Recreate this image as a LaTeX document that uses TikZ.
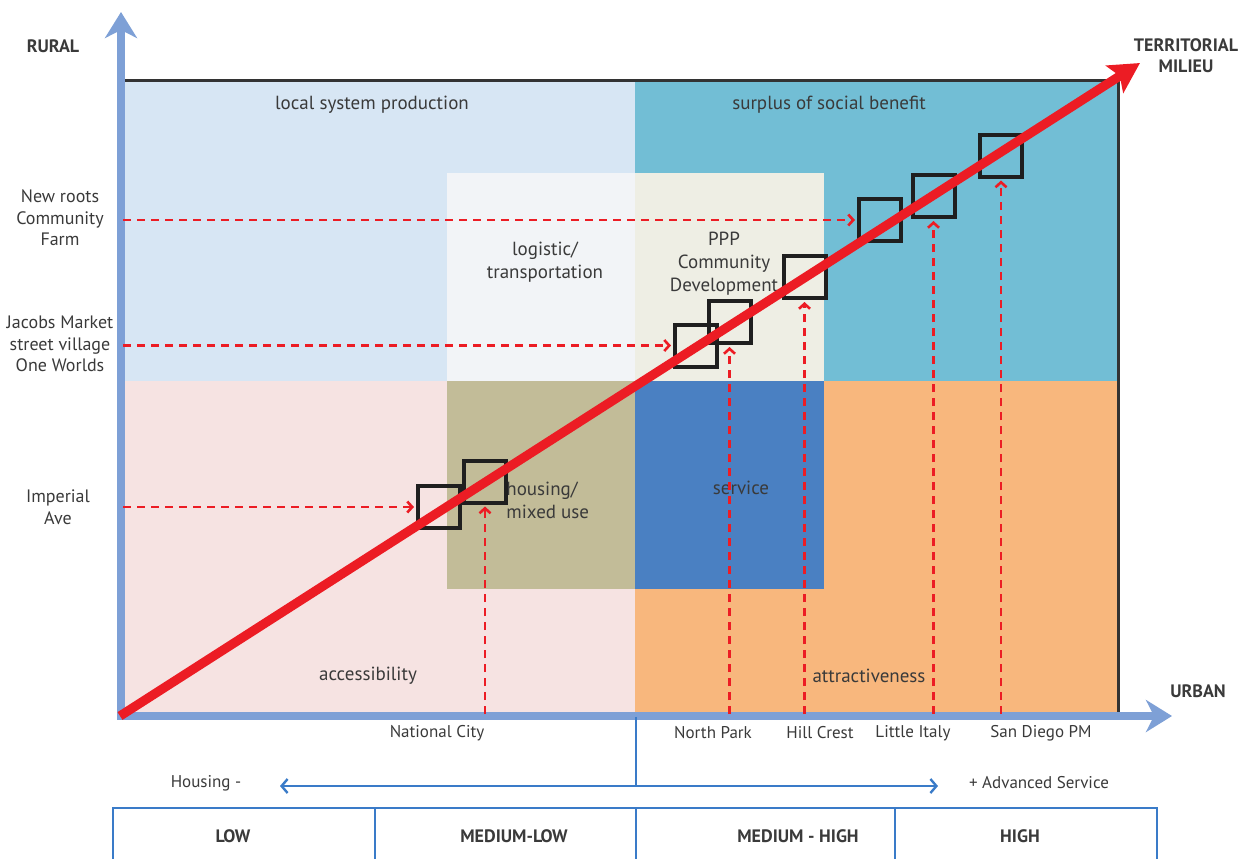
\documentclass[tikz,border=0pt]{standalone}
\usepackage{fontspec}
\setmainfont{PT Sans}
\usetikzlibrary{arrows.meta}
\definecolor{ltbluebg}{HTML}{D7E6F4}
\definecolor{tealbg}{HTML}{72BED5}
\definecolor{pinkbg}{HTML}{F6E3E2}
\definecolor{orangebg}{HTML}{F8B77D}
\definecolor{whitebg}{HTML}{F2F4F7}
\definecolor{beigebg}{HTML}{EEEEE4}
\definecolor{khakibg}{HTML}{C2BC98}
\definecolor{midbluebg}{HTML}{4A80C2}
\definecolor{axisblue}{HTML}{7EA0D6}
\definecolor{redline}{HTML}{EC1C24}
\definecolor{tblue}{HTML}{3A7BC8}
\definecolor{txt}{HTML}{3A3A3A}
\tikzset{
  lbl/.style={text=txt, font=\fontsize{8.5}{11}\selectfont, align=center, inner sep=0pt},
  rlbl/.style={text=txt, font=\fontsize{9.5}{11.5}\selectfont, align=center, inner sep=0pt},
  llbl/.style={text=txt, font=\fontsize{9}{10.8}\selectfont, align=center, inner sep=0pt},
  blbl/.style={text=txt, font=\bfseries\fontsize{9}{10.5}\selectfont, align=center, inner sep=0pt},
  sq/.style={draw=black!88, line width=2pt, minimum size=21pt, inner sep=0pt},
  dasharr/.style={redline, line width=1.4pt, dash pattern=on 4pt off 3pt,
    -{Straight Barb[length=2.5pt,width=5.5pt,line width=1.3pt]}, shorten >=1pt},
  axisarr/.style={axisblue, line width=3.6pt, -{Stealth[length=13pt,width=16pt,inset=4pt]}},
  tline/.style={tblue, line width=1.2pt},
}
\begin{document}
\begin{tikzpicture}[x=0.5pt,y=-0.5pt]
\useasboundingbox (0,0) rectangle (1247,858);
% background quadrants
\fill[ltbluebg] (120,80) rectangle (635,381);
\fill[tealbg] (635,80) rectangle (1118,381);
\fill[pinkbg] (120,381) rectangle (635,716);
\fill[orangebg] (635,381) rectangle (1118,716);
% inner quadrants
\fill[whitebg] (447,173) rectangle (635,381);
\fill[beigebg] (635,173) rectangle (824,381);
\fill[khakibg] (447,381) rectangle (635,589);
\fill[midbluebg] (635,381) rectangle (824,589);
% frame
\draw[black!80, line width=1.5pt] (120,80) rectangle (1118,716);
% region labels
\node[rlbl] (t1) at (372,105) {local system production};
\node[rlbl] (t2) at (829,105) {surplus of social benefit};
\node[rlbl] (t3) at (545,262) {logistic/\\transportation};
\node[rlbl] (t4) at (724,264) {PPP\\Community\\Development};
\node[rlbl, align=left, anchor=west] (t5) at (506,500) {housing/\\mixed use};
\node[rlbl] (t6) at (741,488) {service};
\node[rlbl] (t7) at (368,676) {accessibility};
\node[rlbl] (t8) at (869,676) {attractiveness};
% squares
\node[sq] (s1) at (439,507) {};
\node[sq] (s2) at (485,481.5) {};
\node[sq] (s3) at (696,345.5) {};
\node[sq] (s4) at (729.5,322) {};
\node[sq] (s5) at (804.5,277) {};
\node[sq] (s6) at (880,220) {};
\node[sq] (s7) at (933.5,196) {};
\node[sq] (s8) at (1001,155.5) {};
% axes
\coordinate (o) at (120,716);
\coordinate (ytip) at (121,12);
\coordinate (xtip) at (1172,716);
\draw[axisarr] (121,719) -- (ytip);
\draw[axisarr] (117,716) -- (xtip);
% red milieu arrow
\coordinate (rtip) at (1140,63);
\draw[redline, line width=4.6pt, -{Stealth[length=15pt,width=16pt,inset=3pt]}] (o) -- (rtip);
% dashed arrows
\coordinate (h1) at (123,220);
\coordinate (h2) at (123,345.5);
\coordinate (h3) at (123,507);
\draw[dasharr] (h1) -- (s6.west);
\draw[dasharr] (h2) -- (s3.west);
\draw[dasharr] (h3) -- (s1.west);
\coordinate (v2) at (485,714);
\coordinate (v4) at (729.5,714);
\coordinate (v5) at (804.5,714);
\coordinate (v7) at (933.5,714);
\coordinate (v8) at (1001,714);
\draw[dasharr] (v2) -- (s2.south);
\draw[dasharr] (v4) -- (s4.south);
\draw[dasharr] (v5) -- (s5.south);
\draw[dasharr] (v7) -- (s7.south);
\draw[dasharr] (v8) -- (s8.south);
% axis labels
\node[blbl] (rural) at (53,46) {RURAL};
\node[blbl] (terr) at (1186,56) {TERRITORIAL\\MILIEU};
\node[blbl] (urban) at (1198,691) {URBAN};
% left labels
\node[llbl] (l1) at (60,218) {New roots\\Community\\Farm};
\node[llbl] (l2) at (60,344) {Jacobs Market\\street village\\One Worlds};
\node[llbl] (l3) at (58,507) {Imperial\\Ave};
% bottom labels
\node[lbl] (b1) at (437,733) {National City};
\node[lbl] (b2) at (713,733) {North Park};
\node[lbl] (b3) at (820,733) {Hill Crest};
\node[lbl] (b4) at (913,733) {Little Italy};
\node[lbl] (b5) at (1041,733) {San Diego PM};
% scale arrow
\coordinate (ax) at (636,717);
\coordinate (hm) at (636,786);
\coordinate (hl) at (280,786);
\coordinate (hr) at (938,786);
\draw[tline] (ax) -- (hm);
\draw[tline, {Straight Barb[length=3pt,width=7pt]}-{Straight Barb[length=3pt,width=7pt]}] (hl) -- (hr);
\node[lbl] (hous) at (206,783) {Housing -};
\node[lbl] (adv) at (1039,783) {+ Advanced Service};
% table
\draw[tline] (113,860) -- (113,808) -- (1157,808) -- (1157,860);
\draw[tline] (375,808) -- (375,860);
\draw[tline] (636,808) -- (636,860);
\draw[tline] (895,808) -- (895,860);
\node[blbl] (c1) at (233,836) {LOW};
\node[blbl] (c2) at (514,836) {MEDIUM-LOW};
\node[blbl] (c3) at (798,836) {MEDIUM - HIGH};
\node[blbl] (c4) at (1020,836) {HIGH};
\end{tikzpicture}
\end{document}
